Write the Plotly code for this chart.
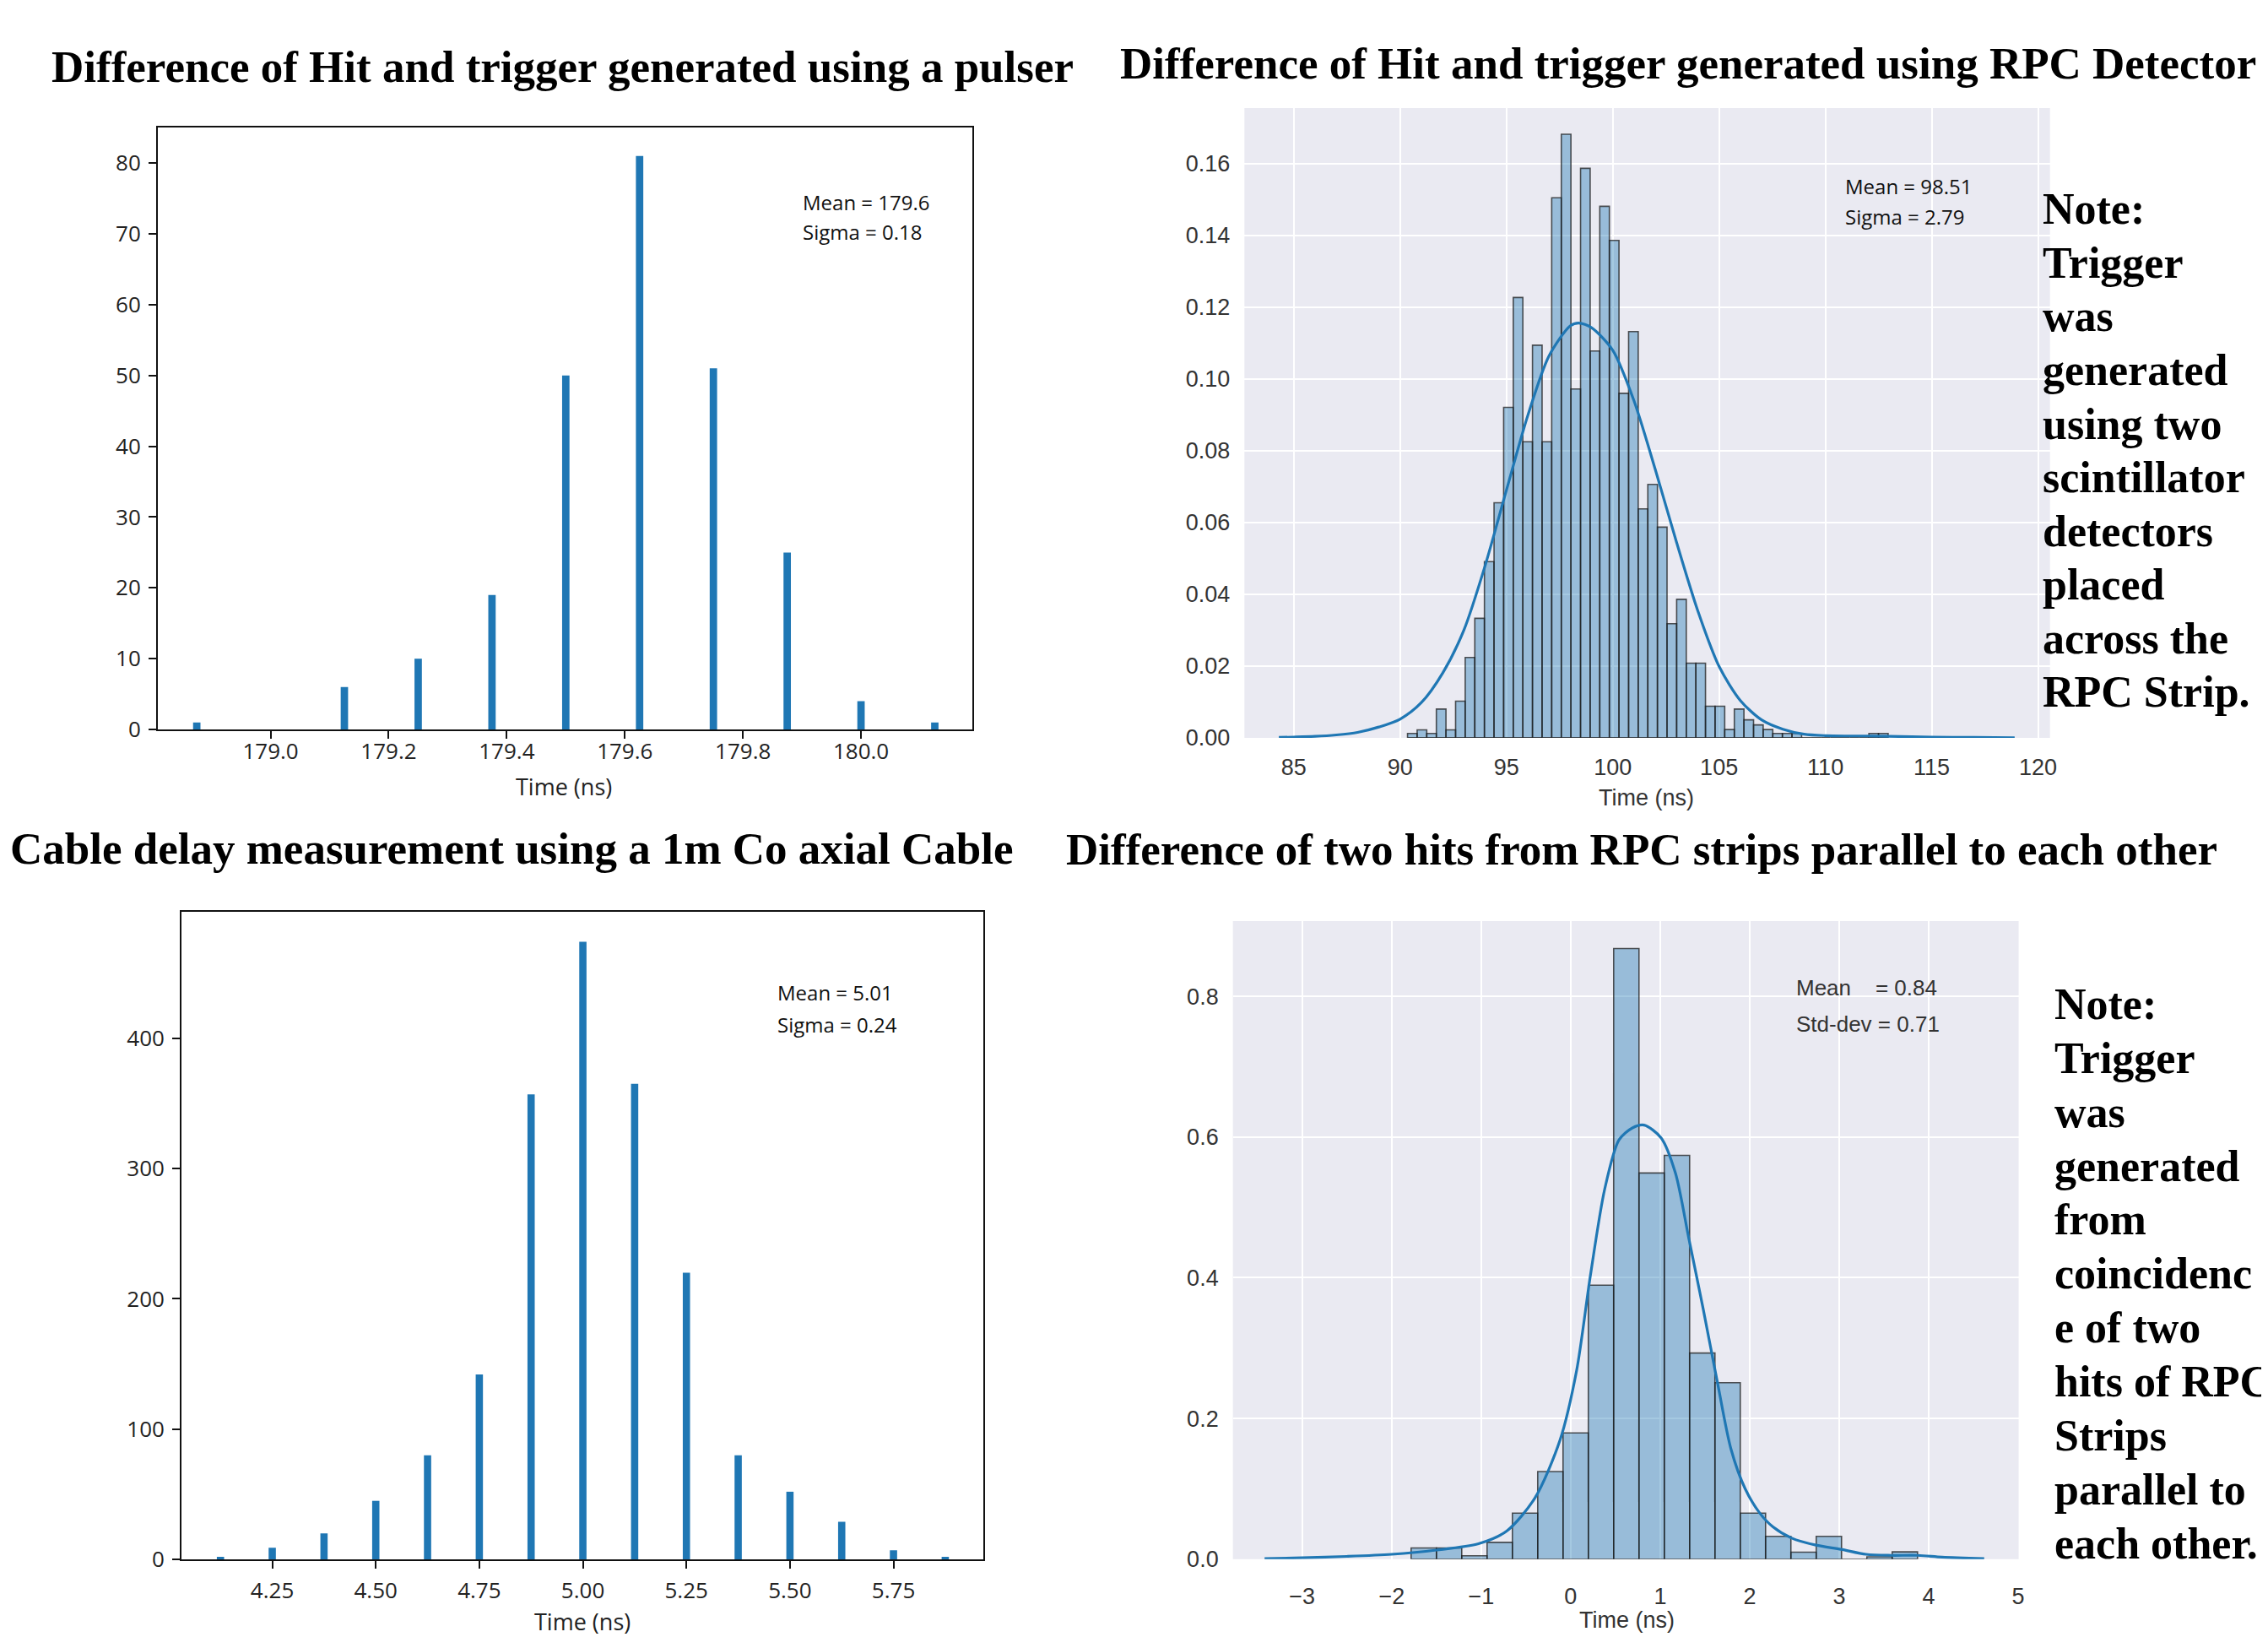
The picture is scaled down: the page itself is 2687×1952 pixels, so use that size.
import numpy as np
import plotly.graph_objects as go

W, H = 2687, 1952

# ---------------- data ----------------
# Panel A: hit - trigger with pulser (counts)
pulser_time = [178.875, 179.125, 179.25, 179.375, 179.5, 179.625, 179.75, 179.875, 180.0, 180.125]
pulser_counts = [1, 6, 10, 19, 50, 81, 51, 25, 4, 1]
pulser_bin_width = 0.0125

# Panel C: cable delay (counts)
cable_time = [4.125, 4.25, 4.375, 4.5, 4.625, 4.75, 4.875, 5.0, 5.125, 5.25, 5.375, 5.5, 5.625, 5.75, 5.875]
cable_counts = [2, 9, 20, 45, 80, 142, 357, 474, 365, 220, 80, 52, 29, 7, 2]
cable_bin_width = 0.0175

# Panel B: hit - trigger with RPC detector (density histogram + KDE)
rpc_bin_start = 90.35
rpc_bin_width = 0.452
rpc_density = [0.0012, 0.0022, 0.0012, 0.0080, 0.0022, 0.0102, 0.0224, 0.0333, 0.0491, 0.0655,
               0.0921, 0.1227, 0.0825, 0.1094, 0.0825, 0.1505, 0.1682, 0.0972, 0.1587, 0.1078,
               0.1481, 0.1386, 0.0960, 0.1132, 0.0638, 0.0706, 0.0587, 0.0318, 0.0386, 0.0208,
               0.0208, 0.0088, 0.0088, 0.0023, 0.0080, 0.0050, 0.0036, 0.0023, 0.0012, 0.0012,
               0.0012, 0.0, 0.0, 0.0, 0.0, 0.0, 0.0, 0.0, 0.0012, 0.0012]
rpc_kde_x = [84.3, 85, 86, 87, 88, 89, 90, 91, 92, 93, 94, 95, 96, 97, 98, 98.4, 99, 100, 101,
             102, 103, 104, 105, 106, 107, 108, 109, 110, 111, 112, 113, 115, 117, 118.9]
rpc_kde_y = [0.0001, 0.0002, 0.0004, 0.0008, 0.0015, 0.0030, 0.0052, 0.0098, 0.0180, 0.0300,
             0.0480, 0.0690, 0.0897, 0.1064, 0.1148, 0.1156, 0.1143, 0.1080, 0.0939, 0.0748,
             0.0545, 0.0354, 0.0199, 0.0104, 0.0050, 0.0024, 0.0010, 0.0006, 0.0005, 0.0005,
             0.0004, 0.0002, 0.0001, 0.0]

# Panel D: difference of two parallel strip hits (density histogram + KDE)
par_bin_start = -1.783
par_bin_width = 0.2829
par_density = [0.016, 0.016, 0.005, 0.024, 0.0655, 0.1246, 0.1795, 0.3895, 0.868, 0.549,
               0.574, 0.293, 0.251, 0.0655, 0.0325, 0.0100, 0.0325, 0.0, 0.0035, 0.0105]
par_kde_x = [-3.42, -3.0, -2.5, -2.0, -1.5, -1.03, -0.715, -0.40, -0.12, 0.066, 0.22, 0.38,
             0.54, 0.69, 0.82, 1.01, 1.17, 1.32, 1.48, 1.64, 1.79, 1.95, 2.11, 2.26, 2.47,
             2.74, 3.02, 3.30, 3.58, 3.88, 4.15, 4.62]
par_kde_y = [0.001, 0.002, 0.004, 0.007, 0.013, 0.022, 0.040, 0.087, 0.169, 0.268, 0.403, 0.526,
             0.596, 0.613, 0.617, 0.599, 0.549, 0.456, 0.356, 0.251, 0.157, 0.100, 0.066, 0.046,
             0.030, 0.020, 0.014, 0.007, 0.0055, 0.0055, 0.003, 0.0008]

titles = ["Difference of Hit and trigger generated using a pulser",
          "Difference of Hit and trigger generated using RPC Detector",
          "Cable delay measurement using a 1m Co axial Cable",
          "Difference of two hits from RPC strips parallel to each other"]
note_b = ["Note:", "Trigger", "was", "generated", "using two", "scintillator",
          "detectors", "placed", "across the", "RPC Strip."]
note_d = ["Note:", "Trigger", "was", "generated", "from", "coincidenc",
          "e of two", "hits of RPC", "Strips", "parallel to", "each other."]
stats_a = ["Mean = 179.6", "Sigma = 0.18"]
stats_b = ["Mean = 98.51", "Sigma = 2.79"]
stats_c = ["Mean = 5.01", "Sigma = 0.24"]
stats_d = ["Mean\u00a0\u00a0\u00a0\u00a0= 0.84", "Std-dev = 0.71"]
xlabel = "Time (ns)"

# ---------------- helpers ----------------
def px(x):
    return x / W

def py(y):
    return 1 - y / H

rpc_centers = [rpc_bin_start + (i + 0.5) * rpc_bin_width for i in range(len(rpc_density))]
par_centers = [par_bin_start + (i + 0.5) * par_bin_width for i in range(len(par_density))]

BLUE = "#1f77b4"
fig = go.Figure()

fig.add_trace(go.Bar(x=pulser_time, y=pulser_counts, width=pulser_bin_width,
                     marker=dict(color=BLUE, line=dict(width=0)), xaxis="x", yaxis="y"))
fig.add_trace(go.Bar(x=rpc_centers, y=rpc_density, width=rpc_bin_width,
                     marker=dict(color="rgba(31,119,180,0.4)",
                                 line=dict(color="rgba(30,30,30,0.75)", width=1.6)),
                     xaxis="x2", yaxis="y2"))
fig.add_trace(go.Scatter(x=rpc_kde_x, y=rpc_kde_y, mode="lines",
                         line=dict(color=BLUE, width=3.2, shape="spline", smoothing=0.8),
                         xaxis="x2", yaxis="y2"))
fig.add_trace(go.Bar(x=cable_time, y=cable_counts, width=cable_bin_width,
                     marker=dict(color=BLUE, line=dict(width=0)), xaxis="x3", yaxis="y3"))
fig.add_trace(go.Bar(x=par_centers, y=par_density, width=par_bin_width,
                     marker=dict(color="rgba(31,119,180,0.4)",
                                 line=dict(color="rgba(30,30,30,0.75)", width=1.6)),
                     xaxis="x4", yaxis="y4"))
fig.add_trace(go.Scatter(x=par_kde_x, y=par_kde_y, mode="lines",
                         line=dict(color=BLUE, width=3.2, shape="spline", smoothing=0.8),
                         xaxis="x4", yaxis="y4"))

mpl_tick = dict(family="Open Sans", size=26, color="#222")
sns_tick = dict(family="Liberation Sans", size=27, color="#333")

def mpl_axis(domain, rng, dtick, tick0, fmt, anchor, standoff):
    return dict(domain=domain, range=rng, dtick=dtick, tick0=tick0, tickformat=fmt,
                anchor=anchor, showline=True, mirror=True, linecolor="#111", linewidth=2,
                ticks="outside", ticklen=9, tickwidth=2, tickcolor="#111",
                showgrid=False, zeroline=False, tickfont=mpl_tick,
                ticklabelstandoff=standoff, fixedrange=True)

def sns_axis(domain, rng, dtick, tick0, fmt, anchor, standoff):
    return dict(domain=domain, range=rng, dtick=dtick, tick0=tick0, tickformat=fmt,
                anchor=anchor, showline=False, ticks="", showgrid=True,
                gridcolor="white", gridwidth=2.2, zeroline=False, tickfont=sns_tick,
                ticklabelstandoff=standoff, fixedrange=True)

layout = dict(
    width=W, height=H, margin=dict(l=0, r=0, t=0, b=0),
    paper_bgcolor="white", plot_bgcolor="white", showlegend=False,
    xaxis=mpl_axis([px(179.5), px(1147.7)], [178.809, 180.189], 0.2, 179.0, ".1f", "y", -7),
    yaxis=mpl_axis([py(863.6), py(144.5)], [0, 85], 10, 0, "d", "x", 4),
    xaxis2=sns_axis([px(1470.7), px(2427.9)], [82.68, 120.56], 5, 85, "d", "y2", 16),
    yaxis2=sns_axis([py(873.5), py(121)], [0, 0.1755], 0.02, 0, ".2f", "x2", 16),
    xaxis3=mpl_axis([px(207.7), px(1160.5)], [4.031, 5.967], 0.25, 4.25, ".2f", "y3", 4),
    yaxis3=mpl_axis([py(1855.3), py(1081.5)], [0, 497], 100, 0, "d", "x3", 4),
    xaxis4=sns_axis([px(1457), px(2390.7)], [-3.774, 5.005], 1, -3, "d", "y4", 25),
    yaxis4=sns_axis([py(1855), py(1092.5)], [0, 0.907], 0.2, 0, ".1f", "x4", 16),
)
fig.update_layout(**layout)
fig.update_layout(shapes=[
    dict(type="rect", xref="x2 domain", yref="y2 domain", x0=0, x1=1, y0=0, y1=1,
         fillcolor="#EAEAF2", line=dict(width=0), layer="below"),
    dict(type="rect", xref="x4 domain", yref="y4 domain", x0=0, x1=1, y0=0, y1=1,
         fillcolor="#EAEAF2", line=dict(width=0), layer="below"),
])

ann = []

def text(x, y, s, font, xanchor="center", yanchor="middle"):
    ann.append(dict(x=px(x), y=py(y), xref="paper", yref="paper", text=s, showarrow=False,
                    xanchor=xanchor, yanchor=yanchor, font=font))

title_font = dict(family="Liberation Serif", size=53, color="black", weight=700)
for t, (cx, cy) in zip(titles, [(660, 72), (1998, 68), (600, 1006), (1943, 1007)]):
    text(cx, cy, t, title_font)

note_font = dict(family="Liberation Serif", size=52, color="black", weight=700)
for i, s in enumerate(note_b):
    text(2417, 242 + i * 64.1, s, note_font, xanchor="left")
for i, s in enumerate(note_d):
    text(2431, 1192 + i * 64.4, s, note_font, xanchor="left")

stat_font = dict(family="Open Sans", size=24, color="#111")
for i, s in enumerate(stats_a):
    text(944, 234 + i * 35, s, stat_font, xanchor="left")
for i, s in enumerate(stats_b):
    text(2182, 214 + i * 37, s, stat_font, xanchor="left")
for i, s in enumerate(stats_c):
    text(914, 1178 + i * 38, s, stat_font, xanchor="left")
stat_font_d = dict(family="Liberation Sans", size=26, color="#333")
for i, s in enumerate(stats_d):
    text(2124, 1172 + i * 44, s, stat_font_d, xanchor="left")

lab_mpl = dict(family="Open Sans", size=27, color="#222")
lab_sns = dict(family="Liberation Sans", size=27, color="#333")
text(662, 932, xlabel, lab_mpl)
text(1948, 945, xlabel, lab_sns)
text(684, 1929, xlabel, lab_mpl)
text(1925, 1928, xlabel, lab_sns)

fig.update_layout(annotations=ann)
fig.write_html("out.html")
